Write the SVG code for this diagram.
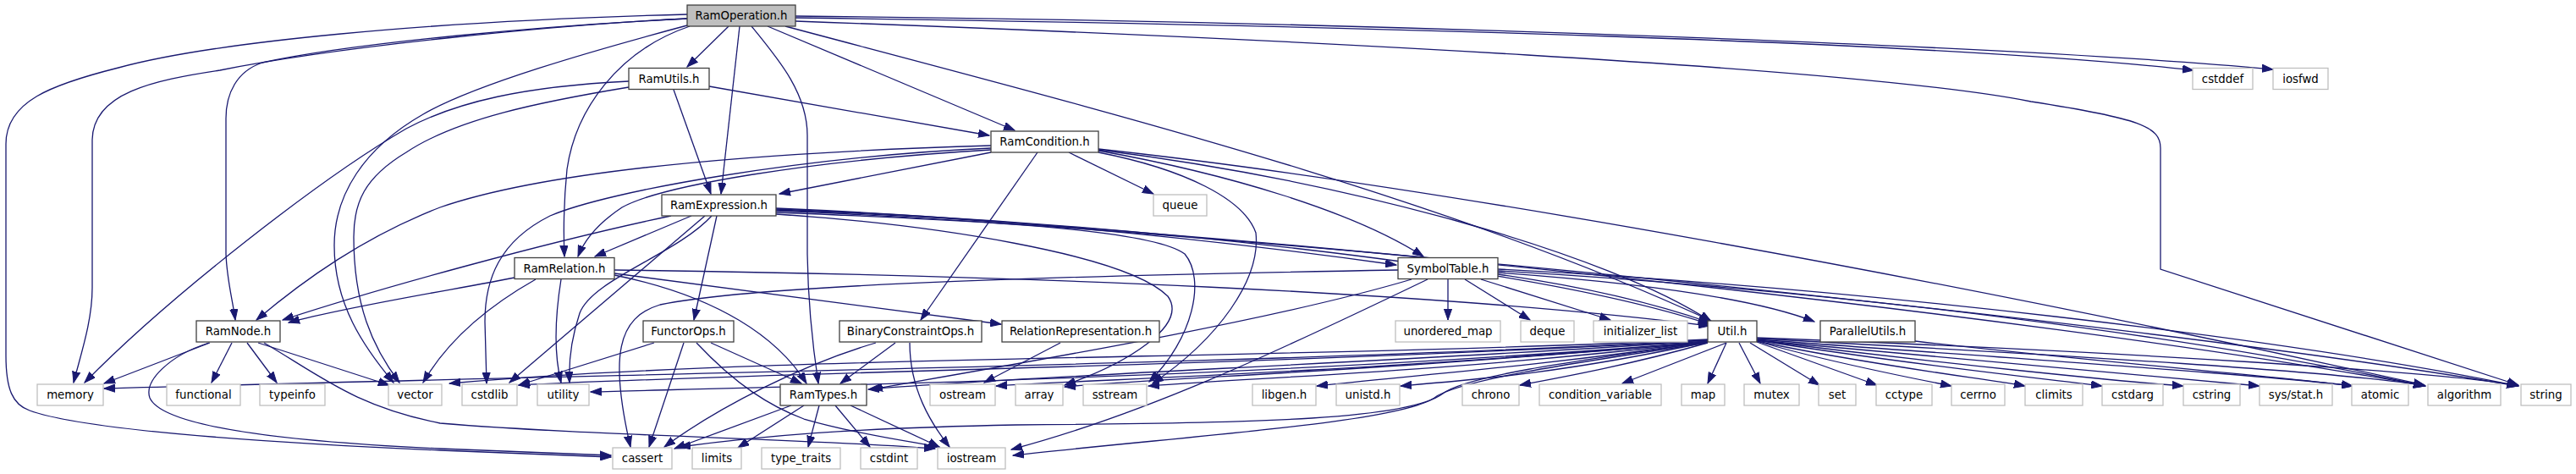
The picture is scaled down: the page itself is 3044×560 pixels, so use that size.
<svg xmlns="http://www.w3.org/2000/svg" width="3044" height="560" viewBox="0 0 3044 560">
<style>
.e{fill:none;stroke:#191970;stroke-width:1.3;marker-end:url(#a)}
.n{fill:#fff;stroke:#404040;stroke-width:1.3}
.r{fill:#bfbfbf;stroke:#404040;stroke-width:1.3}
.g{fill:#fff;stroke:#bfbfbf;stroke-width:1.3}
text{font-family:"DejaVu Sans","Liberation Sans",sans-serif;font-size:13.33px;text-anchor:middle;fill:#000}
</style>
<defs>
<marker id="a" markerUnits="userSpaceOnUse" markerWidth="14" markerHeight="10" refX="13" refY="5" orient="auto">
<path d="M0,0.4 L13,5 L0,9.6 z" fill="#191970" stroke="#191970" stroke-width="1"/>
</marker>
</defs>
<rect width="3044" height="560" fill="#fff"/>
<g id="edges">
<!-- RamOperation -->
<path class="e" d="M812,17 C500,25 250,50 140,80 C60,100 7,120 7,170 L7,420 C7,460 15,478 35,485 C90,505 250,520 520,532 L722,540"/>
<path class="e" d="M812,22 C650,30 400,55 260,83 C180,95 110,110 109,165 L109,340 C109,380 95,420 87,452"/>
<path class="e" d="M812,22 C650,30 420,50 310,74 C280,84 267,110 267,140 L267,300 C268,330 275,355 278,378"/>
<path class="e" d="M812,30 C700,60 560,100 500,135 C430,175 395,230 395,290 C395,360 430,410 465,452"/>
<path class="e" d="M815,31 C730,60 680,130 670,200 C665,250 666,280 667,303"/>
<path class="e" d="M861,31 L812,79"/>
<path class="e" d="M874,31 L852,229"/>
<path class="e" d="M888,31 C920,70 954,110 954,160 L954,300 C955,370 962,420 967,453"/>
<path class="e" d="M907,31 L1199,154"/>
<path class="e" d="M928,31 C1300,130 1700,230 2022,379"/>
<path class="e" d="M940,25 C1500,45 2200,80 2400,120 C2530,140 2553,150 2553,175 L2553,318 L2976,455"/>
<path class="e" d="M940,21 C1600,30 2300,50 2592,83"/>
<path class="e" d="M940,19 C1600,25 2400,55 2686,82"/>
<!-- RamUtils -->
<path class="e" d="M743,96 C620,102 540,120 480,152 C380,210 200,350 100,452"/>
<path class="e" d="M743,103 C640,120 540,140 480,180 C430,210 418,240 418,280 C418,360 440,410 472,452"/>
<path class="e" d="M796,106 L840,229"/>
<path class="e" d="M838,102 L1169,160"/>
<!-- RamCondition -->
<path class="e" d="M1171,180 L921,229"/>
<path class="e" d="M1171,172 C900,180 650,200 520,245 C430,280 360,330 303,378"/>
<path class="e" d="M1171,175 C950,185 720,225 650,255 C590,285 573,330 573,380 L575,453"/>
<path class="e" d="M1171,177 C950,190 780,220 735,245 C705,265 690,285 683,303"/>
<path class="e" d="M1226,180 L1088,378"/>
<path class="e" d="M1263,180 L1363,229"/>
<path class="e" d="M1298,178 C1450,205 1600,250 1682,303"/>
<path class="e" d="M1298,180 C1400,200 1470,235 1484,275 C1490,330 1440,400 1362,453"/>
<path class="e" d="M1298,177 C1600,215 1900,300 2022,380"/>
<path class="e" d="M1298,176 C1700,220 2300,330 2865,455"/>
<!-- RamExpression -->
<path class="e" d="M793,255 C650,285 450,340 334,378"/>
<path class="e" d="M817,255 L703,303"/>
<path class="e" d="M833,255 L602,452"/>
<path class="e" d="M841,255 C800,300 700,330 685,370 C675,400 672,430 673,452"/>
<path class="e" d="M847,255 L820,378"/>
<path class="e" d="M917,246 C1200,258 1450,285 1650,313"/>
<path class="e" d="M917,247 C1300,262 1800,310 2020,383"/>
<path class="e" d="M917,248 C1400,265 2400,370 2865,456"/>
<path class="e" d="M917,249 C1400,268 2500,375 2975,456"/>
<path class="e" d="M917,253 C1100,265 1330,300 1380,350 C1405,385 1330,430 1258,455"/>
<path class="e" d="M917,251 C1150,260 1360,270 1400,300 C1425,330 1410,400 1358,451"/>
<!-- RamRelation -->
<path class="e" d="M608,328 C550,340 420,360 341,381"/>
<path class="e" d="M633,330 C580,360 530,400 500,452"/>
<path class="e" d="M663,330 C655,380 655,420 663,452"/>
<path class="e" d="M726,325 C850,350 920,400 953,453"/>
<path class="e" d="M726,323 L1183,383"/>
<path class="e" d="M726,319 C1200,325 1700,345 2020,385"/>
<!-- RelationRepresentation -->
<path class="e" d="M1253,405 L1163,452"/>
<!-- FunctorOps -->
<path class="e" d="M773,405 L613,455"/>
<path class="e" d="M808,405 L767,528"/>
<path class="e" d="M840,405 L947,453"/>
<path class="e" d="M823,405 C870,455 910,480 950,495 C1020,515 1080,522 1110,528"/>
<!-- BinaryConstraintOps -->
<path class="e" d="M1035,405 C950,430 850,480 785,528"/>
<path class="e" d="M1058,405 L993,453"/>
<path class="e" d="M1075,405 C1075,460 1100,500 1122,528"/>
<!-- RamTypes -->
<path class="e" d="M935,479 L797,530"/>
<path class="e" d="M950,479 L872,529"/>
<path class="e" d="M968,479 L955,528"/>
<path class="e" d="M987,479 L1028,528"/>
<path class="e" d="M1005,479 L1110,528"/>
<!-- RamNode -->
<path class="e" d="M248,405 L123,453"/>
<path class="e" d="M274,405 L250,452"/>
<path class="e" d="M292,405 L327,452"/>
<path class="e" d="M305,405 L460,455"/>
<path class="e" d="M247,405 C200,420 170,450 177,470 C190,500 300,520 520,530 L722,538"/>
<path class="e" d="M312,405 C380,445 420,480 520,500 C700,515 950,518 1105,530"/>
<!-- SymbolTable -->
<path class="e" d="M1711,330 L1711,378"/>
<path class="e" d="M1731,330 L1808,378"/>
<path class="e" d="M1750,330 L1903,378"/>
<path class="e" d="M1770,324 C1880,340 1960,360 2020,381"/>
<path class="e" d="M1770,322 C1950,335 2080,355 2144,380"/>
<path class="e" d="M1770,318 C2200,340 2700,400 2976,456"/>
<path class="e" d="M1770,320 C2200,345 2600,400 2866,456"/>
<path class="e" d="M1668,330 C1500,380 1200,430 1030,460"/>
<path class="e" d="M1687,330 C1500,420 1350,490 1195,531"/>
<path class="e" d="M1652,319 C1300,325 900,335 780,360 C730,375 720,420 745,528"/>
<!-- ParallelUtils -->
<path class="e" d="M2263,403 C2500,430 2700,445 2780,456"/>
<!-- Util.h -->
<path class="e" d="M2018,402 C1500,430 800,440 123,459"/>
<path class="e" d="M2018,401 C1500,425 900,420 531,453"/>
<path class="e" d="M2018,402 C1500,432 900,440 613,455"/>
<path class="e" d="M2018,404 C1500,445 1000,455 698,463"/>
<path class="e" d="M2018,403 C1600,430 1200,445 1026,460"/>
<path class="e" d="M2018,404 C1600,440 1300,448 1177,456"/>
<path class="e" d="M2018,404 C1600,440 1400,445 1258,457"/>
<path class="e" d="M2018,404 C1700,440 1500,445 1357,456"/>
<path class="e" d="M2018,404 C1800,435 1650,445 1556,456"/>
<path class="e" d="M2018,404 C1850,440 1750,448 1655,456"/>
<path class="e" d="M2018,405 C1930,430 1850,445 1796,455"/>
<path class="e" d="M2040,405 L1917,453"/>
<path class="e" d="M2040,405 L2018,453"/>
<path class="e" d="M2055,405 L2080,453"/>
<path class="e" d="M2068,405 L2150,455"/>
<path class="e" d="M2076,404 L2218,455"/>
<path class="e" d="M2076,403 C2150,425 2250,445 2306,456"/>
<path class="e" d="M2076,403 C2200,430 2350,448 2393,456"/>
<path class="e" d="M2076,402 C2250,430 2420,448 2484,456"/>
<path class="e" d="M2076,402 C2300,430 2500,450 2580,456"/>
<path class="e" d="M2076,402 C2350,428 2580,448 2670,456"/>
<path class="e" d="M2076,401 C2400,425 2700,445 2780,456"/>
<path class="e" d="M2076,400 C2450,420 2780,440 2866,456"/>
<path class="e" d="M2076,399 C2500,415 2900,440 2976,456"/>
<path class="e" d="M2018,404 C1850,428 1730,445 1705,465 C1665,495 1500,500 1200,502 C1000,506 900,515 803,528"/>
<path class="e" d="M2018,405 C1850,430 1720,450 1695,470 C1650,500 1400,515 1197,538"/>
</g>
<g id="RamOperation"><rect class="r" x="812" y="6" width="128" height="25"/><text x="876" y="23">RamOperation.h</text></g>
<g id="RamUtils"><rect class="n" x="743" y="80.5" width="95" height="25"/><text x="790.5" y="97.5">RamUtils.h</text></g>
<g id="cstddef"><rect class="g" x="2591" y="80.5" width="71" height="25"/><text x="2626.5" y="97.5">cstddef</text></g>
<g id="iosfwd"><rect class="g" x="2686" y="80.5" width="65" height="25"/><text x="2718.5" y="97.5">iosfwd</text></g>
<g id="RamCondition"><rect class="n" x="1171" y="155" width="127" height="25"/><text x="1234.5" y="172">RamCondition.h</text></g>
<g id="RamExpression"><rect class="n" x="782" y="230" width="135" height="25"/><text x="849.5" y="247">RamExpression.h</text></g>
<g id="queue"><rect class="g" x="1363" y="230" width="63" height="25"/><text x="1394.5" y="247">queue</text></g>
<g id="RamRelation"><rect class="n" x="608" y="304.5" width="118" height="25"/><text x="667" y="321.5">RamRelation.h</text></g>
<g id="SymbolTable"><rect class="n" x="1652" y="304.5" width="118" height="25"/><text x="1711" y="321.5">SymbolTable.h</text></g>
<g id="RamNode"><rect class="n" x="232" y="379" width="99" height="25"/><text x="281.5" y="396">RamNode.h</text></g>
<g id="FunctorOps"><rect class="n" x="760" y="379" width="107" height="25"/><text x="813.5" y="396">FunctorOps.h</text></g>
<g id="BinaryConstraintOps"><rect class="n" x="992" y="379" width="168" height="25"/><text x="1076" y="396">BinaryConstraintOps.h</text></g>
<g id="RelationRepresentation"><rect class="n" x="1184" y="379" width="186" height="25"/><text x="1277" y="396">RelationRepresentation.h</text></g>
<g id="unordered_map"><rect class="g" x="1649" y="379" width="124" height="25"/><text x="1711" y="396">unordered_map</text></g>
<g id="deque"><rect class="g" x="1797" y="379" width="63" height="25"/><text x="1828.5" y="396">deque</text></g>
<g id="initializer_list"><rect class="g" x="1883" y="379" width="111" height="25"/><text x="1938.5" y="396">initializer_list</text></g>
<g id="Util"><rect class="n" x="2018" y="379" width="58" height="25"/><text x="2047" y="396">Util.h</text></g>
<g id="ParallelUtils"><rect class="n" x="2151" y="379" width="112" height="25"/><text x="2207" y="396">ParallelUtils.h</text></g>
<g id="memory"><rect class="g" x="44" y="454" width="78" height="25"/><text x="83" y="471">memory</text></g>
<g id="functional"><rect class="g" x="197" y="454" width="87" height="25"/><text x="240.5" y="471">functional</text></g>
<g id="typeinfo"><rect class="g" x="307" y="454" width="77" height="25"/><text x="345.5" y="471">typeinfo</text></g>
<g id="vector"><rect class="g" x="459" y="454" width="63" height="25"/><text x="490.5" y="471">vector</text></g>
<g id="cstdlib"><rect class="g" x="546" y="454" width="65" height="25"/><text x="578.5" y="471">cstdlib</text></g>
<g id="utility"><rect class="g" x="635" y="454" width="61" height="25"/><text x="665.5" y="471">utility</text></g>
<g id="RamTypes"><rect class="n" x="922" y="454" width="102" height="25"/><text x="973" y="471">RamTypes.h</text></g>
<g id="ostream"><rect class="g" x="1099" y="454" width="77" height="25"/><text x="1137.5" y="471">ostream</text></g>
<g id="array"><rect class="g" x="1200" y="454" width="56" height="25"/><text x="1228" y="471">array</text></g>
<g id="sstream"><rect class="g" x="1280" y="454" width="75" height="25"/><text x="1317.5" y="471">sstream</text></g>
<g id="libgen"><rect class="g" x="1480" y="454" width="75" height="25"/><text x="1517.5" y="471">libgen.h</text></g>
<g id="unistd"><rect class="g" x="1579" y="454" width="75" height="25"/><text x="1616.5" y="471">unistd.h</text></g>
<g id="chrono"><rect class="g" x="1728" y="454" width="67" height="25"/><text x="1761.5" y="471">chrono</text></g>
<g id="condition_variable"><rect class="g" x="1819" y="454" width="144" height="25"/><text x="1891" y="471">condition_variable</text></g>
<g id="map"><rect class="g" x="1987" y="454" width="51" height="25"/><text x="2012.5" y="471">map</text></g>
<g id="mutex"><rect class="g" x="2061" y="454" width="65" height="25"/><text x="2093.5" y="471">mutex</text></g>
<g id="set"><rect class="g" x="2149" y="454" width="44" height="25"/><text x="2171" y="471">set</text></g>
<g id="cctype"><rect class="g" x="2217" y="454" width="66" height="25"/><text x="2250" y="471">cctype</text></g>
<g id="cerrno"><rect class="g" x="2306" y="454" width="63" height="25"/><text x="2337.5" y="471">cerrno</text></g>
<g id="climits"><rect class="g" x="2393" y="454" width="68" height="25"/><text x="2427" y="471">climits</text></g>
<g id="cstdarg"><rect class="g" x="2484" y="454" width="72" height="25"/><text x="2520" y="471">cstdarg</text></g>
<g id="cstring"><rect class="g" x="2580" y="454" width="67" height="25"/><text x="2613.5" y="471">cstring</text></g>
<g id="sys_stat"><rect class="g" x="2670" y="454" width="86" height="25"/><text x="2713" y="471">sys/stat.h</text></g>
<g id="atomic"><rect class="g" x="2779" y="454" width="67" height="25"/><text x="2812.5" y="471">atomic</text></g>
<g id="algorithm"><rect class="g" x="2869" y="454" width="86" height="25"/><text x="2912" y="471">algorithm</text></g>
<g id="string"><rect class="g" x="2979" y="454" width="59" height="25"/><text x="3008.5" y="471">string</text></g>
<g id="cassert"><rect class="g" x="724" y="529" width="70" height="25"/><text x="759" y="546">cassert</text></g>
<g id="limits"><rect class="g" x="818" y="529" width="58" height="25"/><text x="847" y="546">limits</text></g>
<g id="type_traits"><rect class="g" x="900" y="529" width="93" height="25"/><text x="946.5" y="546">type_traits</text></g>
<g id="cstdint"><rect class="g" x="1017" y="529" width="67" height="25"/><text x="1050.5" y="546">cstdint</text></g>
<g id="iostream"><rect class="g" x="1108" y="529" width="80" height="25"/><text x="1148" y="546">iostream</text></g>
</svg>
